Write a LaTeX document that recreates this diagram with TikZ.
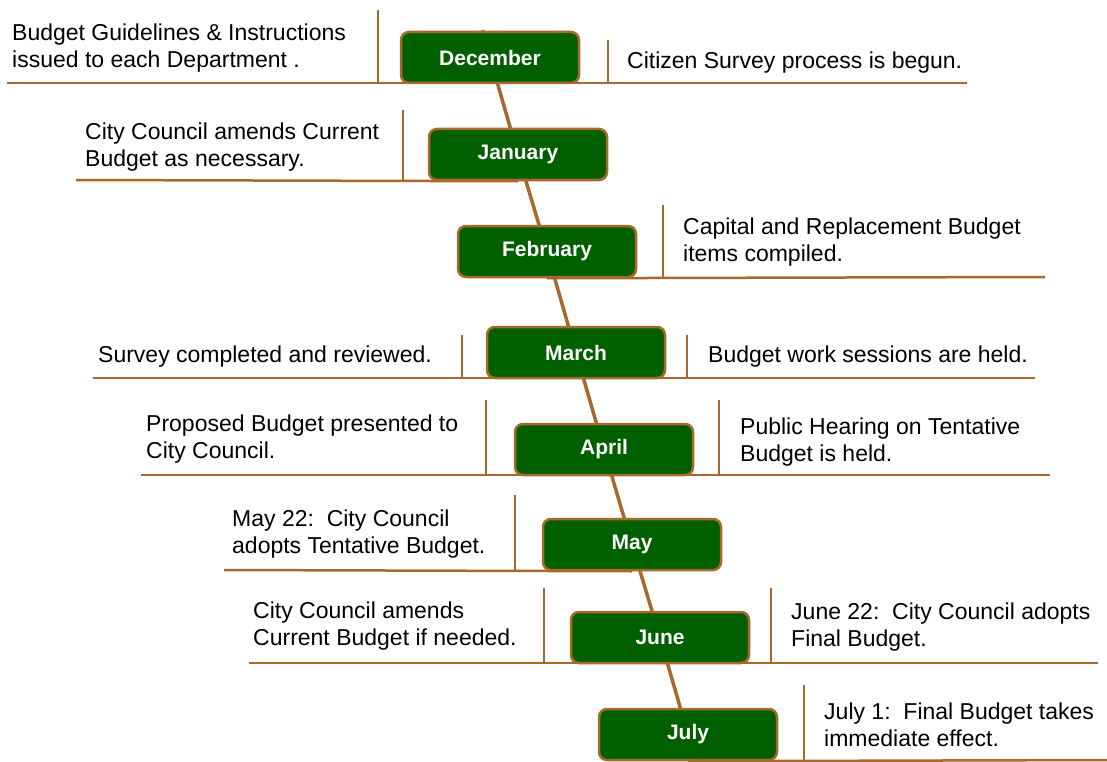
\documentclass[tikz,border=0pt]{standalone}
\usepackage{fontspec}
\setmainfont{Liberation Sans}
\usetikzlibrary{backgrounds}
\definecolor{cgreen}{HTML}{006000}
\definecolor{cbrown}{HTML}{A8692D}
\tikzset{
  month/.style={draw=cbrown, fill=cgreen, text=white, rounded corners=8pt, line width=2.5pt,
    minimum width=178pt, minimum height=51pt, font=\fontsize{21}{24}\selectfont\bfseries},
  rule/.style={draw=cbrown, line width=2.5pt},
  spine/.style={draw=cbrown, line width=3.5pt},
  note/.style={anchor=west, align=left, inner sep=0pt, font=\fontsize{23}{27}\selectfont},
}

\begin{document}
\begin{tikzpicture}[x=1pt, y=-1pt]
  \useasboundingbox (0,0) rectangle (1107,762);
  % month boxes down the spine
  \coordinate (top) at (482.5,30);
  \node[month] (dec) at (490,57.5) {December};
  \node[month] (jan) at (518,154.5) {January};
  \node[month] (feb) at (547,251.5) {February};
  \node[month] (mar) at (576,352.5) {March};
  \node[month] (apr) at (604,449.5) {April};
  \node[month] (may) at (632,544.5) {May};
  \node[month] (jun) at (660,637.5) {June};
  \node[month] (jul) at (688,734.5) {July};
  % what happens each month
  \node[note] (dec-l) at (12,48.5) {Budget Guidelines \& Instructions\\issued to each Department .};
  \node[note] (dec-r) at (627,63) {Citizen Survey process is begun.};
  \node[note] (jan-l) at (85,147) {City Council amends Current\\Budget as necessary.};
  \node[note] (feb-r) at (683,242) {Capital and Replacement Budget\\items compiled.};
  \node[note] (mar-l) at (98,357) {Survey completed and reviewed.};
  \node[note] (mar-r) at (708,357) {Budget work sessions are held.};
  \node[note] (apr-l) at (146,439.5) {Proposed Budget presented to\\City Council.};
  \node[note] (apr-r) at (740,442) {Public Hearing on Tentative\\Budget is held.};
  \node[note] (may-l) at (232,534.5) {May 22:\ \ City Council\\adopts Tentative Budget.};
  \node[note] (jun-l) at (253,626) {City Council amends\\Current Budget if needed.};
  \node[note] (jun-r) at (791,627) {June 22:\ \ City Council adopts\\Final Budget.};
  \node[note] (jul-r) at (824,725) {July 1:\ \ Final Budget takes\\immediate effect.};
  \begin{scope}[on background layer]
    % rules and separators
    \draw[rule] (7,83) -- (967,83);
    \draw[rule] (378,10) -- (378,83);
    \draw[rule] (608,40) -- (608,83);
    \draw[rule] (76,180) -- (jan.south);
    \draw[rule] (403,110) -- (403,180);
    \draw[rule] (feb.south) -- (1045,277);
    \draw[rule] (663,205) -- (663,277);
    \draw[rule] (93,378) -- (1035,378);
    \draw[rule] (462,335) -- (462,378);
    \draw[rule] (687,335) -- (687,378);
    \draw[rule] (141,475) -- (1050,475);
    \draw[rule] (486,400) -- (486,475);
    \draw[rule] (719,400) -- (719,475);
    \draw[rule] (224,570) -- (may.south);
    \draw[rule] (515,495) -- (515,570);
    \draw[rule] (249,663) -- (1098,663);
    \draw[rule] (544,588) -- (544,663);
    \draw[rule] (771,588) -- (771,663);
    \draw[rule] (jul.south) -- (1107,760);
    \draw[rule] (804,685) -- (804,760);
    % the spine
    \draw[spine] (top) -- (dec.center) -- (jan.center) -- (feb.center) -- (mar.center)
      -- (apr.center) -- (may.center) -- (jun.center) -- (jul.center);
  \end{scope}
\end{tikzpicture}
\end{document}
